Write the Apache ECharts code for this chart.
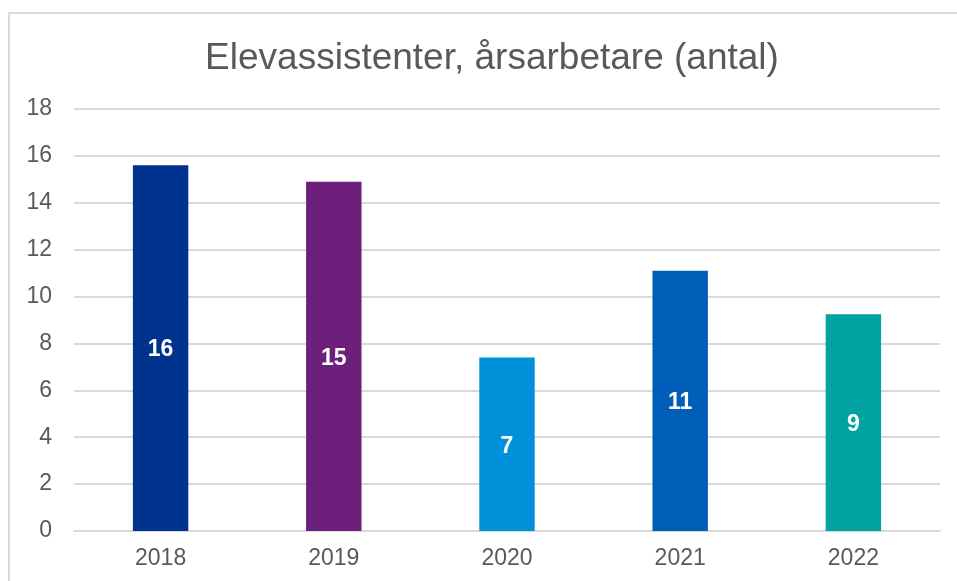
<!DOCTYPE html>
<html>
<head>
<meta charset="utf-8">
<script src="https://cdn.jsdelivr.net/npm/echarts@6/dist/echarts.min.js"></script>
<style>
  html, body { margin: 0; padding: 0; background: #fff; }
  #chart { width: 957px; height: 581px; }
</style>
</head>
<body>
<div id="chart"></div>
<script>
const years = ['2018', '2019', '2020', '2021', '2022'];
const values = [15.6, 14.9, 7.4, 11.1, 9.25];
const barColors = ['#00338D', '#6D207B', '#0091DA', '#005EB8', '#00A3A1'];

const chart = echarts.init(document.getElementById('chart'));

const option = {
    backgroundColor: '#fff',
    animation: false,
    textStyle: { fontFamily: 'Liberation Sans, Arial, sans-serif' },
    title: {
        text: 'Elevassistenter, årsarbetare (antal)',
        left: 487,
        textAlign: 'center',
        top: 35,
        textStyle: {
            color: '#595959',
            fontSize: 37,
            fontWeight: 'normal',
            fontFamily: 'Liberation Sans, Arial, sans-serif'
        }
    },
    graphic: [{
        type: 'rect',
        shape: { x: 9, y: 13, width: 960, height: 600 },
        style: { fill: 'none', stroke: '#d9d9d9', lineWidth: 2 },
        silent: true
    }],
    grid: { left: 74, right: 17, top: 109, bottom: 50 },
    xAxis: {
        type: 'category',
        data: years,
        axisTick: { show: false },
        axisLine: { show: true, lineStyle: { color: '#d9d9d9', width: 2 } },
        axisLabel: { color: '#595959', fontSize: 23, margin: 16 }
    },
    yAxis: {
        type: 'value',
        min: 0,
        max: 18,
        interval: 2,
        axisLine: { show: false },
        axisTick: { show: false },
        splitLine: { lineStyle: { color: '#d9d9d9', width: 2 } },
        axisLabel: { color: '#595959', fontSize: 23, margin: 22 }
    },
    series: [{
        type: 'bar',
        barWidth: '32%',
        data: values.map((v, i) => ({ value: v, itemStyle: { color: barColors[i] } })),
        label: {
            show: true,
            position: 'inside',
            offset: [0, 2],
            color: '#fff',
            fontSize: 23,
            fontWeight: 'bold',
            formatter: (p) => Math.round(p.value)
        }
    }]
};

chart.setOption(option);
</script>
</body>
</html>
